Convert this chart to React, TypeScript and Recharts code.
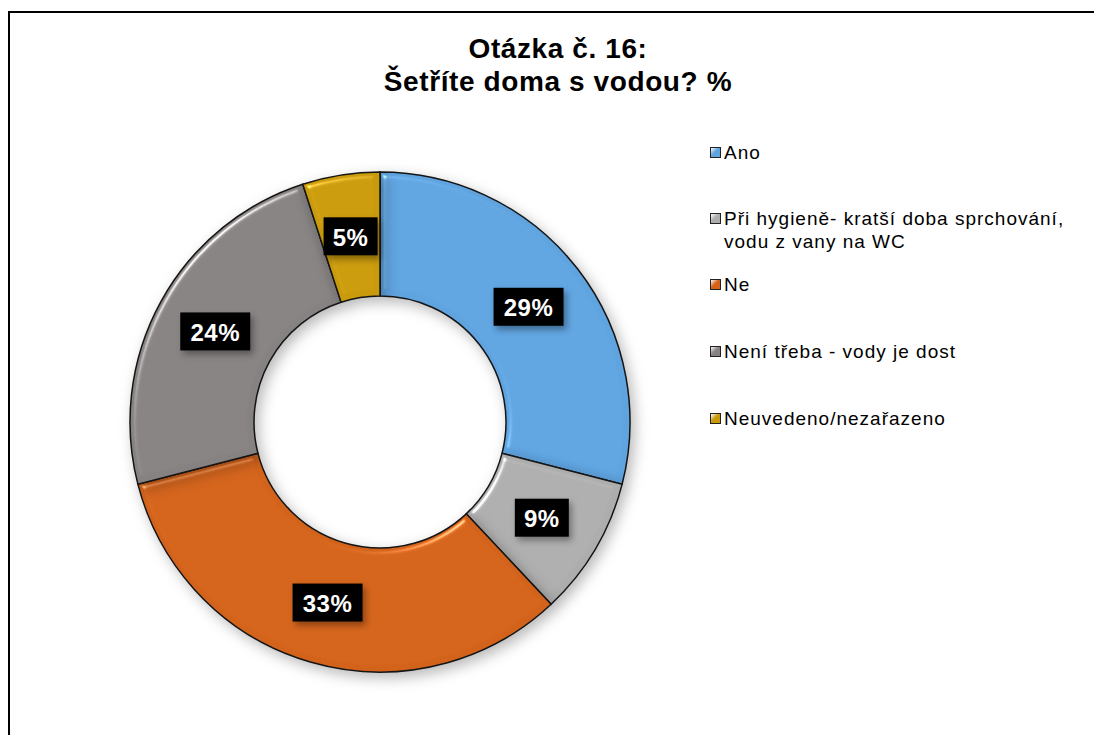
import React from "react";
import { PieChart, Pie, Cell, Legend } from "recharts";

const categories = [
  "Ano",
  "Při hygieně- kratší doba sprchování, vodu z vany na WC",
  "Ne",
  "Není třeba - vody je dost",
  "Neuvedeno/nezařazeno",
];
const percents = [29, 9, 33, 24, 5];
const COLORS = ["#5FA3DF", "#ADADAD", "#D3631B", "#878282", "#C99A0C"];

const data = categories.map((name, i) => ({ name, value: percents[i] }));

const FONT = "'Liberation Sans', Arial, Helvetica, sans-serif";
// gaps below each legend entry (the wrapped one sits tighter)
const LEGEND_GAPS = [43, 20, 44, 44, 0];

function renderLabel(props: any) {
  const RADIAN = Math.PI / 180;
  const cx = Number(props.cx) || 0;
  const cy = Number(props.cy) || 0;
  const inner = Number(props.innerRadius) || 0;
  const outer = Number(props.outerRadius) || 0;
  const r = (inner + outer) / 2;
  const x = cx + r * Math.cos(-props.midAngle * RADIAN);
  const y = cy + r * Math.sin(-props.midAngle * RADIAN);
  const text = `${props.value}%`;
  const w = text.length > 2 ? 70 : 54;
  const h = 38;
  return (
    <g>
      <rect
        x={x - w / 2}
        y={y - h / 2}
        width={w}
        height={h}
        fill="#000"
        style={{ filter: "drop-shadow(3px 4px 3px rgba(0,0,0,0.35))" }}
      />
      <text
        x={x}
        y={y + 1}
        fill="#fff"
        textAnchor="middle"
        dominantBaseline="central"
        style={{ fontFamily: FONT, fontSize: 24, fontWeight: 700, letterSpacing: 0.5 }}
      >
        {text}
      </text>
    </g>
  );
}

function LegendContent() {
  return (
    <div style={{ fontFamily: FONT, fontSize: 19, letterSpacing: 1, color: "#000" }}>
      {categories.map((name, i) => (
        <div
          key={name}
          style={{
            display: "flex",
            alignItems: "flex-start",
            marginBottom: LEGEND_GAPS[i],
            lineHeight: "23px",
          }}
        >
          <span
            style={{
              display: "inline-block",
              width: 9,
              height: 9,
              marginTop: 6,
              marginRight: 3,
              border: "1.5px solid #222",
              background: `linear-gradient(135deg, #fff 0%, ${COLORS[i]} 45%, ${COLORS[i]} 100%)`,
              flex: "none",
            }}
          />
          <span style={{ width: 360 }}>{name}</span>
        </div>
      ))}
    </div>
  );
}

export default function App() {
  return (
    <div
      style={{
        position: "fixed",
        left: 0,
        top: 0,
        width: 1094,
        height: 735,
        overflow: "hidden",
        background: "#fff",
      }}
    >
      <style>{`.recharts-pie-sector { filter: drop-shadow(4px 5px 7px rgba(0,0,0,0.28)); }`}</style>
      <div
        style={{
          position: "absolute",
          left: 8,
          top: 11,
          width: 1200,
          height: 800,
          border: "2px solid #000",
          boxShadow: "1px 1px 0 #999",
        }}
      />
      <div
        style={{
          position: "absolute",
          left: 0,
          width: 1116,
          top: 32,
          textAlign: "center",
          fontFamily: FONT,
          fontSize: 28,
          letterSpacing: 0.6,
          fontWeight: 700,
          lineHeight: "33px",
          color: "#000",
        }}
      >
        Otázka č. 16:
        <br />
        Šetříte doma s vodou? %
      </div>
      <div style={{ position: "absolute", left: 0, top: 0 }}>
        <PieChart width={1094} height={735} margin={{ top: 0, right: 0, bottom: 0, left: 0 }}>
          <defs>
            <filter
              id="bevel"
              x="-5%"
              y="-5%"
              width="110%"
              height="110%"
              colorInterpolationFilters="sRGB"
            >
              <feGaussianBlur in="SourceAlpha" stdDeviation="3" result="blur" />
              <feSpecularLighting
                in="blur"
                surfaceScale="4"
                specularConstant="0.5"
                specularExponent="60"
                lightingColor="#ffffff"
                result="spec"
              >
                <feDistantLight azimuth="225" elevation="50" />
              </feSpecularLighting>
              <feComposite in="spec" in2="SourceAlpha" operator="in" result="specIn" />
              <feComposite
                in="SourceGraphic"
                in2="specIn"
                operator="arithmetic"
                k1="0"
                k2="1"
                k3="1"
                k4="0"
              />
            </filter>
          </defs>
          <Pie
            data={data}
            dataKey="value"
            nameKey="name"
            cx={380}
            cy={422}
            innerRadius={126}
            outerRadius={250}
            startAngle={90}
            endAngle={-270}
            label={renderLabel}
            labelLine={false}
            isAnimationActive={false}
          >
            {data.map((entry, idx) => (
              <Cell
                key={`cell-${idx}`}
                fill={COLORS[idx]}
                stroke="#151515"
                strokeWidth={1.5}
                filter="url(#bevel)"
              />
            ))}
          </Pie>
          <Legend
            content={<LegendContent />}
            wrapperStyle={{ position: "absolute", left: 710, top: 141, width: 380 }}
          />
        </PieChart>
      </div>
    </div>
  );
}
